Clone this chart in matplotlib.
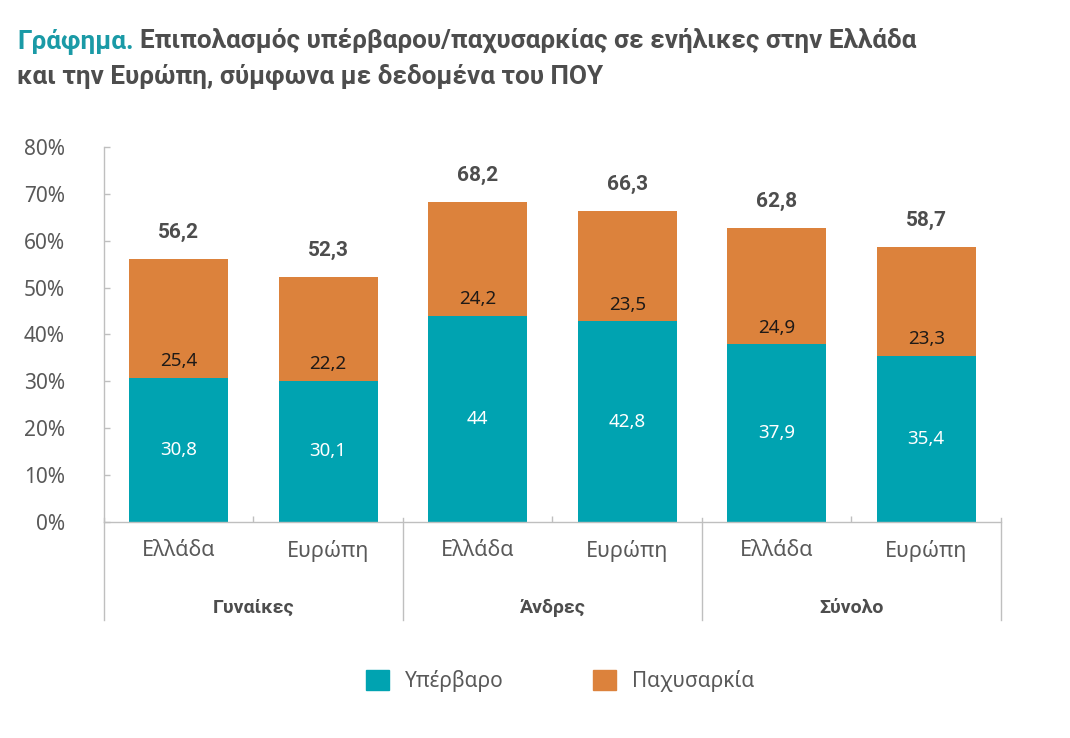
import numpy as np
import matplotlib
matplotlib.use('Agg')
import matplotlib.pyplot as plt
import matplotlib.transforms as mtransforms

plt.rcParams['font.family'] = ['Noto Sans', 'DejaVu Sans']

groups = ['Γυναίκες', 'Άνδρες', 'Σύνολο']
regions = ['Ελλάδα', 'Ευρώπη']
overweight = [30.8, 30.1, 44, 42.8, 37.9, 35.4]
obesity = [25.4, 22.2, 24.2, 23.5, 24.9, 23.3]
totals = [56.2, 52.3, 68.2, 66.3, 62.8, 58.7]
yticks = [0, 10, 20, 30, 40, 50, 60, 70, 80]

teal = '#00A3B1'
orange = '#DC823C'
grey_line = '#BFBFBF'
grey_text = '#595959'
bold_family = ['Roboto', 'DejaVu Sans']


def fmt(v):
    s = ('%.1f' % v).rstrip('0').rstrip('.')
    return s.replace('.', ',')


fig = plt.figure(figsize=(10.7, 7.38), dpi=100)
ax = fig.add_axes([104 / 1070, 1 - 522 / 738, 897 / 1070, 375 / 738])

x = np.arange(len(overweight)) + 0.5
ax.bar(x, overweight, width=0.66, color=teal, zorder=2)
ax.bar(x, obesity, width=0.66, bottom=overweight, color=orange, zorder=2)

ax.set_xlim(0, 6)
ax.set_ylim(0, 80)
ax.set_yticks(yticks)
ax.set_yticklabels(['%d%%' % t for t in yticks])
ax.tick_params(axis='y', direction='in', length=4, width=1, color=grey_line,
               pad=28, labelsize=15, labelcolor=grey_text)
ax.set_xticks([1, 3, 5])
ax.set_xticklabels([])
ax.tick_params(axis='x', direction='in', length=4, width=1, color=grey_line)

for side in ['top', 'right']:
    ax.spines[side].set_visible(False)
for side in ['left', 'bottom']:
    ax.spines[side].set_color(grey_line)
    ax.spines[side].set_linewidth(1)

# value labels
for xi, a, b, t in zip(x, overweight, obesity, totals):
    ax.text(xi, a / 2, fmt(a), ha='center', va='center', color='white', fontsize=13.5)
    ax.annotate(fmt(b), (xi, a), xytext=(0, 12), textcoords='offset points',
                ha='center', va='center', color='#1F1A17', fontsize=13.5)
    ax.annotate(fmt(t), (xi, t), xytext=(0, 19), textcoords='offset points',
                ha='center', va='center', color='#4D4D4D', fontsize=15,
                fontweight='bold', family=bold_family)

# category and group labels below the axis
trans = mtransforms.blended_transform_factory(ax.transData, ax.transAxes)
for i, xi in enumerate(x):
    ax.text(xi, -0.077, regions[i % 2], transform=trans, ha='center', va='center',
            color=grey_text, fontsize=15.5)
for g, name in enumerate(groups):
    ax.text(2 * g + 1, -0.229, name, transform=trans, ha='center', va='center',
            color='#4D4D4D', fontsize=14, fontweight='bold', family=bold_family)
for xd in [0, 2, 4, 6]:
    ax.plot([xd, xd], [0.01, -0.261], transform=trans, color=grey_line, lw=1,
            clip_on=False)

# legend
fig.patches.append(plt.Rectangle((366 / 1070, 1 - 690 / 738), 23 / 1070, 20 / 738,
                                 color=teal, transform=fig.transFigure))
fig.text(405 / 1070, 1 - 681 / 738, 'Υπέρβαρο', ha='left', va='center',
         color=grey_text, fontsize=15)
fig.patches.append(plt.Rectangle((593 / 1070, 1 - 690 / 738), 23 / 1070, 20 / 738,
                                 color=orange, transform=fig.transFigure))
fig.text(632 / 1070, 1 - 681 / 738, 'Παχυσαρκία', ha='left', va='center',
         color=grey_text, fontsize=15)

# title
title_font = dict(family=bold_family, fontweight='bold', fontsize=18.8)
t1 = fig.text(17 / 1070, 1 - 48 / 738, 'Γράφημα.', color='#1A9AA6', **title_font)
fig.canvas.draw()
bb = t1.get_window_extent()
fig.text((bb.x1 + 6) / 1070, 1 - 48 / 738,
         'Επιπολασμός υπέρβαρου/παχυσαρκίας σε ενήλικες στην Ελλάδα',
         color='#4D4D4D', **title_font)
fig.text(17 / 1070, 1 - 83 / 738, 'και την Ευρώπη, σύμφωνα με δεδομένα του ΠΟΥ',
         color='#4D4D4D', **title_font)

fig.savefig('out.png', dpi=100)
